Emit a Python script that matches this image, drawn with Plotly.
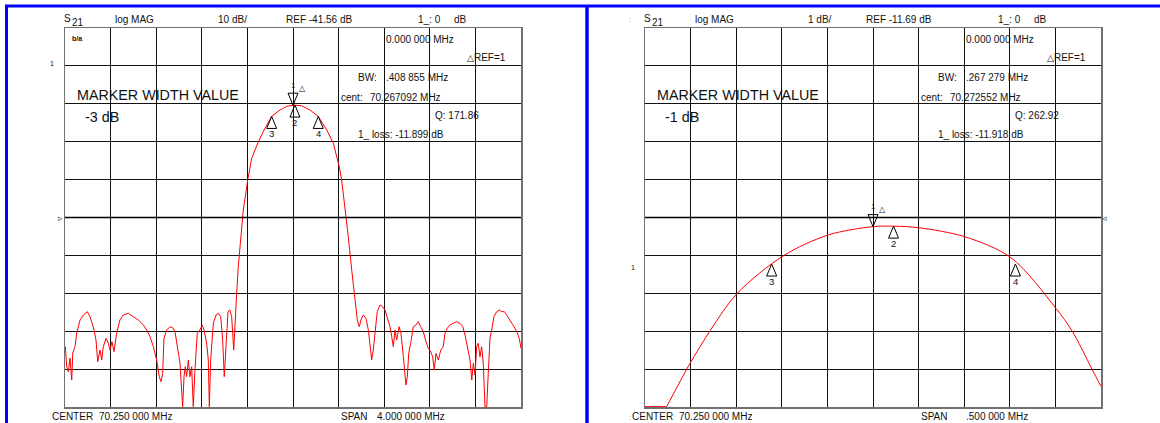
import plotly.graph_objects as go

# ---------------- data ----------------
# Left panel: S21 log MAG, 10 dB/div, REF -41.56 dB, center 70.25 MHz, span 4 MHz
left_center_mhz = 70.25
left_span_mhz = 4.0
left_ref_db = -41.56
left_db_per_div = 10.0

left_freq_mhz = [
    68.253, 68.265, 68.279, 68.294, 68.309, 68.318, 68.338, 68.353, 68.382, 68.411,
    68.446, 68.469, 68.498, 68.522, 68.537, 68.557, 68.572, 68.586, 68.610, 68.630,
    68.645, 68.662, 68.680, 68.703, 68.732, 68.761, 68.805, 68.849, 68.893, 68.937,
    68.967, 68.996, 69.025, 69.054, 69.077, 69.092, 69.107, 69.118, 69.142, 69.171,
    69.200, 69.215, 69.235, 69.259, 69.282, 69.294, 69.305, 69.317, 69.332, 69.346,
    69.361, 69.375, 69.390, 69.410, 69.434, 69.454, 69.469, 69.493, 69.507, 69.516,
    69.528, 69.551, 69.575, 69.595, 69.616, 69.633, 69.647, 69.662, 69.680, 69.697,
    69.712, 69.730, 69.741, 69.756, 69.770, 69.791, 69.814, 69.853, 69.888, 69.946,
    70.004, 70.063, 70.121, 70.195, 70.250, 70.267, 70.326, 70.399, 70.472, 70.546,
    70.604, 70.656, 70.677, 70.706, 70.735, 70.765, 70.794, 70.814, 70.832, 70.846,
    70.867, 70.890, 70.911, 70.925, 70.940, 70.954, 70.969, 70.989, 71.013, 71.036,
    71.057, 71.077, 71.101, 71.116, 71.130, 71.145, 71.159, 71.180, 71.197, 71.218,
    71.241, 71.253, 71.265, 71.282, 71.305, 71.329, 71.349, 71.370, 71.393, 71.417,
    71.437, 71.458, 71.475, 71.489, 71.504, 71.525, 71.546, 71.568, 71.583, 71.603,
    71.627, 71.656, 71.686, 71.715, 71.739, 71.759, 71.779, 71.803, 71.818, 71.832,
    71.847, 71.861, 71.875, 71.890, 71.905, 71.919, 71.934, 71.949, 71.963, 71.978,
    71.993, 72.013, 72.037, 72.060, 72.081, 72.104, 72.125, 72.148, 72.169, 72.189,
    72.213, 72.235, 72.250,
]
left_s21_db = [
    -75.65, -80.93, -82.25, -78.63, -84.44, -77.31, -75.65, -72.03, -68.60, -67.28,
    -66.41, -67.73, -70.37, -73.88, -79.61, -76.52, -79.16, -75.65, -73.43, -74.75,
    -76.52, -74.33, -76.97, -72.11, -68.60, -67.28, -66.84, -67.73, -68.60, -69.92,
    -71.24, -73.01, -75.65, -79.16, -83.56, -84.88, -82.67, -73.43, -71.24, -70.37,
    -70.79, -71.69, -75.65, -80.03, -91.48, -83.56, -80.93, -83.56, -79.16, -83.56,
    -80.93, -91.48, -81.80, -72.11, -71.24, -69.92, -71.24, -74.75, -79.16, -91.48,
    -79.16, -69.48, -67.28, -66.84, -67.73, -73.88, -83.56, -75.65, -66.41, -65.97,
    -67.73, -76.52, -68.60, -61.56, -54.54, -46.63, -39.58, -31.67, -25.94, -21.56,
    -18.02, -14.90, -13.50, -12.20, -11.92, -11.90, -12.10, -13.20, -14.90, -18.47,
    -21.98, -28.16, -31.67, -38.71, -46.63, -55.41, -62.46, -68.60, -70.37, -68.60,
    -67.28, -68.16, -71.24, -75.65, -79.16, -76.52, -71.24, -66.41, -64.65, -65.09,
    -65.97, -68.16, -70.37, -73.01, -75.65, -71.24, -73.88, -70.37, -72.11, -78.29,
    -85.75, -83.56, -77.39, -74.75, -70.37, -69.92, -69.05, -70.37, -71.69, -74.33,
    -76.07, -76.97, -78.29, -81.80, -77.39, -79.16, -76.52, -75.65, -72.11, -70.79,
    -69.92, -69.48, -69.05, -69.48, -70.37, -72.56, -75.65, -79.16, -84.44, -80.03,
    -83.12, -75.65, -74.75, -78.29, -75.65, -80.03, -91.50, -91.50, -82.67, -73.43,
    -71.24, -67.73, -66.41, -65.97, -66.41, -66.41, -67.28, -68.60, -69.48, -70.37,
    -71.69, -73.43, -76.07,
]
left_marker_ids = ["1", "2", "3", "4"]
left_marker_mhz = [70.25, 70.267092, 70.0627, 70.4715]
left_marker_db = [-11.92, -11.899, -14.899, -14.899]

# Right panel: S21 log MAG, 1 dB/div, REF -11.69 dB, center 70.25 MHz, span 0.5 MHz
right_center_mhz = 70.25
right_span_mhz = 0.5
right_ref_db = -11.69
right_db_per_div = 1.0

right_freq_mhz = [
    70.000, 70.0237, 70.0457, 70.0713, 70.1012, 70.1517, 70.2010, 70.2503, 70.2726,
    70.3004, 70.3509, 70.4013, 70.4507, 70.4682, 70.4901, 70.500,
]
right_s21_db = [
    -16.68, -16.68, -15.69, -14.68, -13.69, -12.70, -12.15, -11.93, -11.918,
    -11.96, -12.20, -12.75, -14.09, -14.68, -15.69, -16.15,
]
right_marker_ids = ["1", "2", "3", "4"]
right_marker_mhz = [70.25, 70.272552, 70.1389, 70.4062]
right_marker_db = [-11.93, -11.918, -12.918, -12.918]

# readout texts
left_header = {"scale": "10 dB/", "ref": "REF -41.56 dB", "bw": ".408 855 MHz",
               "cent": "70.267092 MHz", "q": "Q: 171.86", "loss": "1_ loss: -11.899 dB",
               "width": "-3 dB", "span": "4.000 000 MHz"}
right_header = {"scale": "1 dB/", "ref": "REF -11.69 dB", "bw": ".267 279 MHz",
                "cent": "70.272552 MHz", "q": "Q: 262.92", "loss": "1_ loss: -11.918 dB",
                "width": "-1 dB", "span": ".500 000 MHz"}

# ---------------- figure ----------------
W, H = 1160, 423
FONT = "Liberation Sans, Arial, sans-serif"
TXT = "#111111"

fig = go.Figure()

def px_x(p):
    return p / W

def px_y(p):
    return 1 - p / H

fig.add_trace(go.Scatter(x=left_freq_mhz, y=left_s21_db, mode="lines",
                         line=dict(color="#ff0000", width=1), xaxis="x", yaxis="y",
                         hoverinfo="skip", showlegend=False))
# clipped flat start + first straight rise, then smooth curve
fig.add_trace(go.Scatter(x=right_freq_mhz[:3], y=right_s21_db[:3], mode="lines",
                         line=dict(color="#ff0000", width=1),
                         xaxis="x2", yaxis="y2", hoverinfo="skip", showlegend=False))
fig.add_trace(go.Scatter(x=right_freq_mhz[2:], y=right_s21_db[2:], mode="lines",
                         line=dict(color="#ff0000", width=1, shape="spline", smoothing=0.9),
                         xaxis="x2", yaxis="y2", hoverinfo="skip", showlegend=False))

def axis_x(center, span, dom):
    return dict(domain=dom, range=[center - span / 2, center + span / 2],
                tick0=center - span / 2, dtick=span / 10, showgrid=True,
                gridcolor="#111111", gridwidth=1, showticklabels=False, ticks="",
                zeroline=False, showline=True, mirror=True, linecolor="#707070",
                linewidth=1.5, fixedrange=True)

def axis_y(ref, per, dom, anchor):
    top = ref + 5 * per
    return dict(domain=dom, range=[ref - 5 * per, top], tick0=top, dtick=per,
                showgrid=True, gridcolor="#111111", gridwidth=1, showticklabels=False,
                ticks="", zeroline=False, showline=True, mirror=True,
                linecolor="#707070", linewidth=1.5, anchor=anchor, fixedrange=True)

ydom = [px_y(407), px_y(28)]
fig.update_layout(
    width=W, height=H, autosize=False,
    margin=dict(l=0, r=0, t=0, b=0),
    paper_bgcolor="white", plot_bgcolor="white",
    xaxis=axis_x(left_center_mhz, left_span_mhz, [px_x(65), px_x(521)]),
    yaxis=axis_y(left_ref_db, left_db_per_div, ydom, "x"),
    xaxis2=axis_x(right_center_mhz, right_span_mhz, [px_x(645), px_x(1101)]),
    yaxis2=dict(axis_y(right_ref_db, right_db_per_div, ydom, "x2")),
    showlegend=False,
)
fig.layout.xaxis.anchor = "y"
fig.layout.xaxis2.anchor = "y2"

shapes = []
# reference lines (slightly heavier)
for xr, yr, ref, c, s in (("x", "y", left_ref_db, left_center_mhz, left_span_mhz),
                          ("x2", "y2", right_ref_db, right_center_mhz, right_span_mhz)):
    shapes.append(dict(type="line", xref=xr, yref=yr, x0=c - s / 2, x1=c + s / 2,
                       y0=ref, y1=ref, line=dict(color="#000000", width=1.6)))

# blue frame lines
blue = "#0000ff"
shapes += [
    dict(type="line", xref="paper", yref="paper", x0=px_x(5), x1=1, y0=px_y(6), y1=px_y(6),
         line=dict(color=blue, width=3)),
    dict(type="line", xref="paper", yref="paper", x0=px_x(6.5), x1=px_x(6.5), y0=px_y(5), y1=0,
         line=dict(color=blue, width=3)),
    dict(type="line", xref="paper", yref="paper", x0=px_x(587), x1=px_x(587), y0=px_y(5), y1=0,
         line=dict(color=blue, width=3.5)),
]

annotations = []

def ann(x, y, text, size=10, color=TXT, xanchor="left"):
    annotations.append(dict(x=px_x(x), y=px_y(y), xref="paper", yref="paper", text=text,
                            showarrow=False, xanchor=xanchor, yanchor="middle",
                            font=dict(family=FONT, size=size, color=color),
                            borderpad=0, borderwidth=0))

def markers(ids, fs, dbs, xr, yr):
    for mid, f, d in zip(ids, fs, dbs):
        if mid == "1":
            path = "M 0 0 L -5 12 L 5 12 Z"
            annotations.append(dict(x=f, y=d, xref=xr, yref=yr, text="1", showarrow=False,
                                    yshift=20, font=dict(family=FONT, size=8, color=TXT)))
            annotations.append(dict(x=f, y=d, xref=xr, yref=yr, text="△", showarrow=False,
                                    xshift=9, yshift=17,
                                    font=dict(family="DejaVu Sans", size=8, color=TXT)))
        else:
            path = "M 0 0 L -5 -12 L 5 -12 Z"
            annotations.append(dict(x=f, y=d, xref=xr, yref=yr, text=mid, showarrow=False,
                                    yshift=-17, font=dict(family=FONT, size=9.5, color=TXT)))
        shapes.append(dict(type="path", xref=xr, yref=yr, xsizemode="pixel",
                           ysizemode="pixel", xanchor=f, yanchor=d, path=path,
                           line=dict(color="#000000", width=1)))

markers(left_marker_ids, left_marker_mhz, left_marker_db, "x", "y")
markers(right_marker_ids, right_marker_mhz, right_marker_db, "x2", "y2")

def panel_text(dx, h):
    ann(64 + dx, 19, "S")
    ann(72 + dx, 23, "21")
    ann(115 + dx, 20, "log MAG")
    ann(dx + (218 if dx == 0 else 228), 20, h["scale"])
    ann(286 + dx, 20, h["ref"])
    ann(418 + dx, 20, "1_: 0")
    ann(454 + dx, 20, "dB")
    ann(386 + dx, 39, "0.000 000 MHz")
    ann(467 + dx, 58, "<span style='font-family:DejaVu Sans;font-size:9px'>△</span>REF=1")
    ann(358 + dx, 77, "BW:")
    ann(386 + dx, 77, h["bw"])
    ann(341 + dx, 97, "cent:")
    ann(370 + dx, 97, h["cent"])
    ann(435 + dx, 115, h["q"])
    ann(358 + dx, 134, h["loss"])
    ann(77 + dx, 95, "MARKER WIDTH VALUE", size=14.3)
    ann(85 + dx, 117, h["width"], size=14.3)
    ann(52 + dx, 416, "CENTER")
    ann(99 + dx, 416, "70.250 000 MHz")
    ann(341 + dx, 416, "SPAN")
    ann((377 if dx == 0 else 386) + dx, 416, h["span"])

panel_text(0, left_header)
panel_text(580, right_header)

ann(50, 63, "1", size=7)
ann(631, 267, "1", size=7)
ann(629, 20, ":", size=8, color="#999999")
ann(629, 417, ":", size=8, color="#999999")
ann(72, 38, "<b>b/a</b>", size=7)
ann(58, 218, "▹", size=9, color="#333333")
ann(1102, 218, "◃", size=9, color="#333333")

fig.update_layout(shapes=shapes, annotations=annotations)

fig.write_html("out.html", config={"displayModeBar": False, "staticPlot": True},
               post_script="document.body.style.margin='0';document.body.style.overflow='hidden';")
